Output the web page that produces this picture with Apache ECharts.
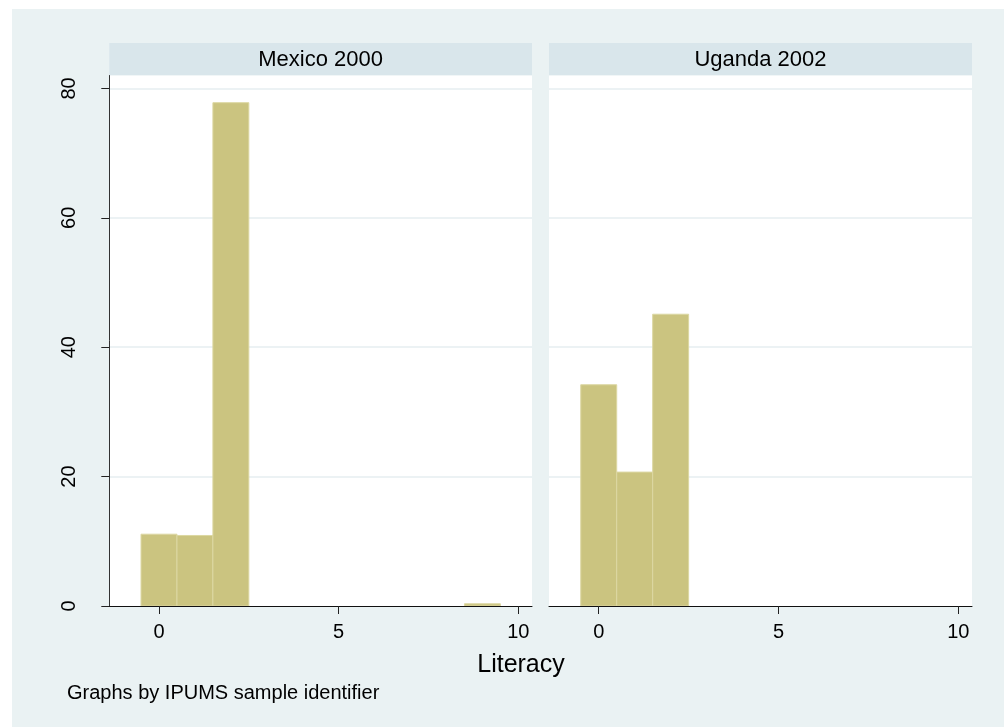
<!DOCTYPE html>
<html>
<head>
<meta charset="utf-8">
<script src="https://cdn.jsdelivr.net/npm/echarts@6/dist/echarts.min.js"></script>
<style>
html,body{margin:0;padding:0;background:#ffffff;}
#chart{width:1004px;height:727px;}
</style>
</head>
<body>
<div id="chart"></div>
<script>
// ---- data ----
const panelTitles = ['Mexico 2000', 'Uganda 2002'];
const mexicoBins = [0, 1, 2, 9];
const mexicoPercent = [11.1, 10.9, 77.8, 0.35];
const ugandaBins = [0, 1, 2];
const ugandaPercent = [34.2, 20.7, 45.1];
const binWidth = 1;
const xTicks = [0, 5, 10];
const yTicks = [0, 20, 40, 60, 80];
const xTitle = 'Literacy';
const note = 'Graphs by IPUMS sample identifier';

// ---- styling ----
const FONT = '"Liberation Sans", Arial, sans-serif';
const BG = '#eaf2f3';
const HEADER = '#d9e6eb';
const BAR = '#cbc480';
const BAR_EDGE = '#dcd7a2';
const GRIDLINE = '#e6eef0';

const XMIN = -1.383, XMAX = 10.38, YMIN = 0, YMAX = 82;
const grids = [
  {left: 109.3, top: 75.5, width: 422.7, height: 530.5},
  {left: 549, top: 75.5, width: 423, height: 530.5}
];

function pairs(bins, vals) { return bins.map((b, i) => [b, vals[i]]); }

function renderBar(params, api) {
  const x = api.value(0), y = api.value(1);
  const p0 = api.coord([x - binWidth / 2, 0]);
  const p1 = api.coord([x + binWidth / 2, y]);
  return {
    type: 'rect',
    shape: {x: p0[0], y: p1[1], width: p1[0] - p0[0], height: p0[1] - p1[1]},
    style: {fill: BAR, stroke: BAR_EDGE, lineWidth: 1}
  };
}

const xAxes = grids.map((g, i) => ({
  type: 'value', gridIndex: i, min: XMIN, max: XMAX, z: 10,
  axisLine: {show: true, onZero: false, lineStyle: {color: '#111', width: 1}},
  axisTick: {show: true, customValues: xTicks, length: 8, lineStyle: {color: '#222'}},
  axisLabel: {show: true, customValues: xTicks, margin: 16, color: '#000', fontSize: 20, fontFamily: FONT},
  splitLine: {show: false}
}));

const yAxes = grids.map((g, i) => ({
  type: 'value', gridIndex: i, min: YMIN, max: YMAX, z: 10,
  axisLine: {show: i === 0, onZero: false, lineStyle: {color: '#333', width: 1}},
  axisTick: {show: i === 0, customValues: yTicks, length: 8, lineStyle: {color: '#222'}},
  axisLabel: {show: i === 0, customValues: yTicks, rotate: 90, margin: 30, color: '#000', fontSize: 20, fontFamily: FONT},
  splitLine: {show: false}
}));

const datasets = [pairs(mexicoBins, mexicoPercent), pairs(ugandaBins, ugandaPercent)];
const series = [];
grids.forEach((g, i) => {
  series.push({
    type: 'line', xAxisIndex: i, yAxisIndex: i, data: [], z: 1, silent: true,
    markLine: {
      symbol: 'none', silent: true, z: 1, label: {show: false},
      lineStyle: {color: GRIDLINE, width: 1.5, type: 'solid'},
      data: yTicks.filter(v => v > 0).map(v => ({yAxis: v}))
    }
  });
  series.push({
    type: 'custom', xAxisIndex: i, yAxisIndex: i, z: 6,
    renderItem: renderBar, data: datasets[i], silent: true
  });
});

const graphics = [
  {type: 'rect', z: -10, shape: {x: 12, y: 9, width: 992, height: 718}, style: {fill: BG}, silent: true}
];
grids.forEach((g, i) => {
  graphics.push({type: 'rect', z: -5, shape: {x: g.left, y: 43, width: g.width, height: g.top - 43}, style: {fill: HEADER}, silent: true});
  graphics.push({type: 'text', z: 5, x: g.left + g.width / 2, y: 60,
    style: {text: panelTitles[i], fill: '#000', font: '22px ' + FONT, textAlign: 'center', textVerticalAlign: 'middle'}});
});
graphics.push({type: 'text', z: 5, x: 521, y: 665,
  style: {text: xTitle, fill: '#000', font: '25px ' + FONT, textAlign: 'center', textVerticalAlign: 'middle'}});
graphics.push({type: 'text', z: 5, x: 67, y: 693.5,
  style: {text: note, fill: '#000', font: '20px ' + FONT, textAlign: 'left', textVerticalAlign: 'middle'}});

const chart = echarts.init(document.getElementById('chart'), null, {renderer: 'canvas'});
chart.setOption({
  animation: false,
  backgroundColor: '#ffffff',
  grid: grids.map(g => Object.assign({}, g, {show: true, backgroundColor: '#ffffff', borderWidth: 0, containLabel: false})),
  xAxis: xAxes,
  yAxis: yAxes,
  series: series,
  graphic: graphics
});
</script>
</body>
</html>
